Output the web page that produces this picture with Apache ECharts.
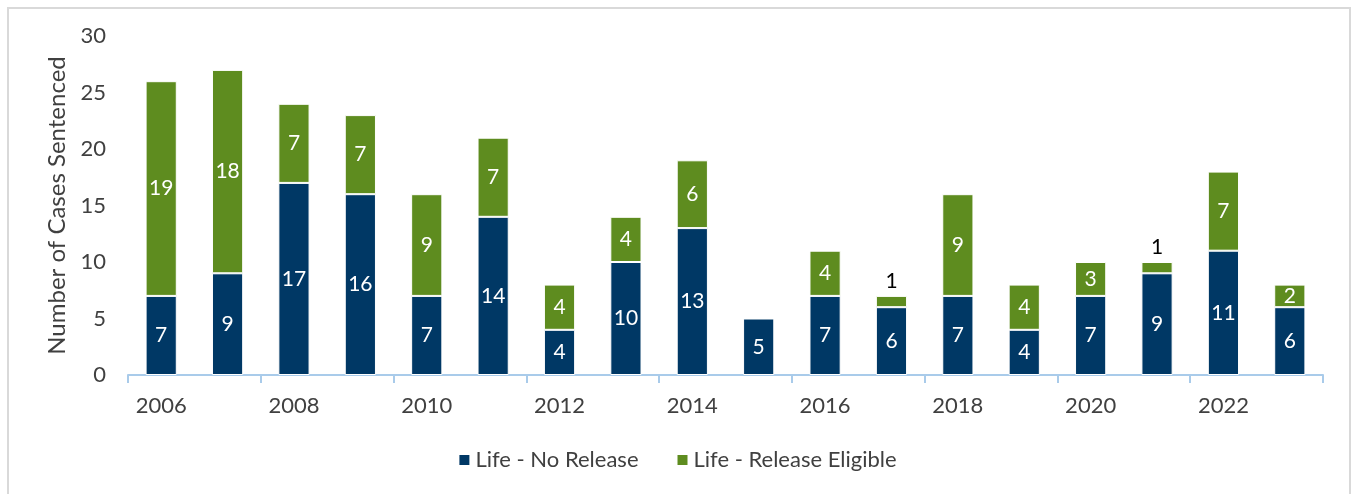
<!DOCTYPE html>
<html>
<head>
<meta charset="utf-8">
<script src="https://cdn.jsdelivr.net/npm/echarts@6/dist/echarts.min.js"></script>
<style>
  html, body { margin: 0; padding: 0; background: #fff; }
  #chart { width: 1354px; height: 494px; }
</style>
</head>
<body>
<div id="chart"></div>
<script>
// years on the x axis
const years = ['2006', '2007', '2008', '2009', '2010', '2011', '2012', '2013', '2014',
  '2015', '2016', '2017', '2018', '2019', '2020', '2021', '2022', '2023']
const noRelease = [7, 9, 17, 16, 7, 14, 4, 10, 13, 5, 7, 6, 7, 4, 7, 9, 11, 6]
const releaseEligible = [19, 18, 7, 7, 9, 7, 4, 4, 6, 0, 4, 1, 9, 4, 3, 1, 7, 2]
const yTicks = [0, 5, 10, 15, 20, 25, 30]

const font = 'Lato, "Open Sans", sans-serif'

// small segments get their label above the bar in black
function withLabels(values) {
  return values.map(v => {
    if (v === 0) return { value: v, label: { show: false } }
    if (v === 1) {
      return { value: v, label: { position: 'top', color: '#000', distance: 4 } }
    }
    return v
  })
}

const myChart = echarts.init(document.getElementById('chart'))

const option = {
  animation: false,
  textStyle: { fontFamily: font },
  graphic: [{
    type: 'rect',
    shape: { x: 8, y: 8, width: 1342, height: 500 },
    style: { fill: 'none', stroke: '#D9D9D9', lineWidth: 2 },
    silent: true
  }],
  grid: { left: 128, right: 31, top: 36, bottom: 119 },
  legend: {
    bottom: 18,
    left: 'center',
    itemWidth: 12,
    itemHeight: 12,
    itemGap: 37,
    icon: 'rect',
    textStyle: { fontSize: 22, color: '#404040', fontFamily: font },
    data: ['Life - No Release', 'Life - Release Eligible']
  },
  xAxis: {
    type: 'category',
    data: years,
    axisLine: { lineStyle: { color: '#A9CBEA', width: 2 } },
    axisTick: { show: true, interval: 1, length: 8, lineStyle: { color: '#A9CBEA', width: 2 } },
    axisLabel: { interval: 1, fontSize: 22, color: '#404040', margin: 20 }
  },
  yAxis: {
    type: 'value',
    min: yTicks[0],
    max: yTicks[yTicks.length - 1],
    interval: 5,
    name: 'Number of Cases Sentenced',
    nameLocation: 'middle',
    nameGap: 56,
    nameTextStyle: { fontSize: 24, color: '#404040' },
    splitLine: { show: false },
    axisLine: { show: false },
    axisTick: { show: false },
    axisLabel: { fontSize: 22, color: '#404040', margin: 22 }
  },
  series: [
    {
      name: 'Life - No Release',
      type: 'bar',
      stack: 'total',
      barWidth: '47%',
      itemStyle: { color: '#003865', borderColor: '#fff', borderWidth: 1 },
      label: { show: true, position: 'inside', color: '#fff', fontSize: 21 },
      data: withLabels(noRelease)
    },
    {
      name: 'Life - Release Eligible',
      type: 'bar',
      stack: 'total',
      barWidth: '47%',
      itemStyle: { color: '#5E8C1F', borderColor: '#fff', borderWidth: 1 },
      label: { show: true, position: 'inside', color: '#fff', fontSize: 21 },
      data: withLabels(releaseEligible)
    }
  ]
}

myChart.setOption(option)
window.addEventListener('resize', () => { myChart.resize() })
</script>
</body>
</html>
